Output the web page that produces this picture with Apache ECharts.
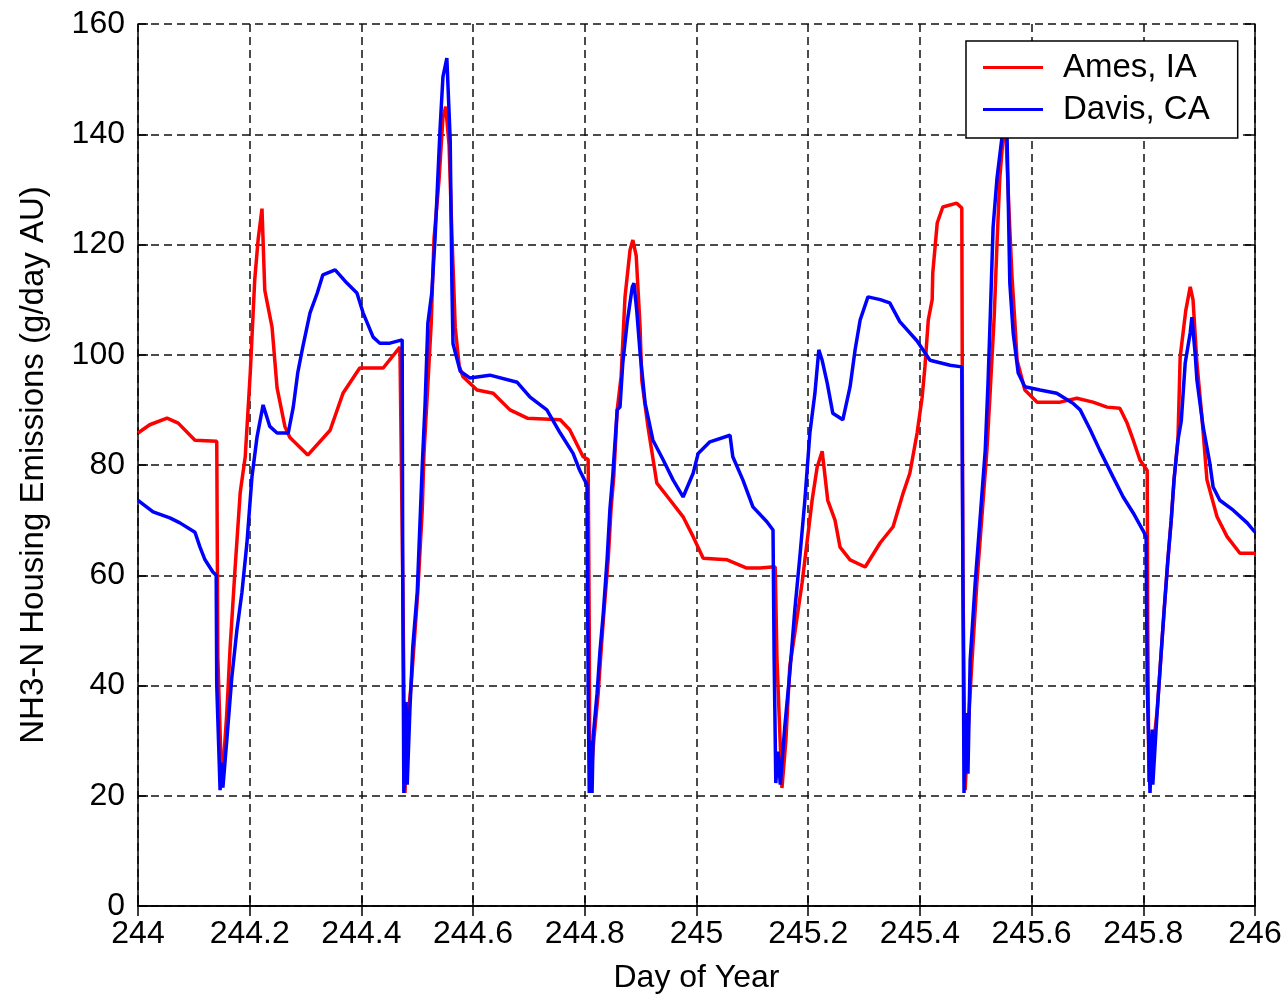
<!DOCTYPE html>
<html>
<head>
<meta charset="utf-8">
<title>NH3-N Housing Emissions</title>
<script src="https://cdn.jsdelivr.net/npm/echarts@6/dist/echarts.min.js"></script>
<style>
  html, body { margin: 0; padding: 0; background: #ffffff; }
  #chart { width: 1285px; height: 996px; }
</style>
</head>
<body>
<div id="chart"></div>
<script>
// Day of year (x) and emission (y) samples for each site
const amesDay = [244.000,244.021,244.052,244.072,244.102,244.141,244.143,244.150,244.159,244.165,244.174,244.183,244.192,244.201,244.209,244.215,244.222,244.227,244.240,244.249,244.263,244.272,244.304,244.344,244.367,244.397,244.439,244.469,244.474,244.478,244.483,244.489,244.494,244.501,244.509,244.512,244.517,244.525,244.530,244.539,244.546,244.551,244.557,244.562,244.568,244.575,244.582,244.607,244.636,244.666,244.697,244.756,244.773,244.797,244.806,244.808,244.809,244.816,244.824,244.829,244.834,244.842,244.847,244.852,244.858,244.865,244.872,244.881,244.886,244.892,244.899,244.902,244.913,244.929,244.953,244.976,244.994,245.012,245.055,245.090,245.114,245.135,245.141,245.144,245.153,245.160,245.167,245.176,245.189,245.200,245.207,245.216,245.225,245.235,245.248,245.257,245.275,245.302,245.329,245.352,245.370,245.382,245.395,245.404,245.409,245.415,245.422,245.423,245.431,245.441,245.466,245.475,245.477,245.481,245.488,245.493,245.502,245.511,245.520,245.526,245.533,245.538,245.543,245.551,245.554,245.560,245.565,245.570,245.574,245.588,245.610,245.651,245.681,245.710,245.735,245.758,245.771,245.782,245.794,245.807,245.808,245.810,245.817,245.825,245.832,245.837,245.844,245.850,245.855,245.862,245.866,245.876,245.884,245.889,245.896,245.905,245.914,245.932,245.950,245.973,246.000];
const amesVal = [85.8,87.3,88.5,87.6,84.5,84.3,45,21.5,35,47,61.5,75,81.5,96.7,113.6,120.8,126.5,111.7,105,94,87,85,81.8,86.3,93,97.6,97.6,101.4,60,20.5,34,40,47,57,72,82,91,105.7,121,131.7,143,145,138,122,105,98,96,93.6,93,90,88.5,88.2,86.4,81.5,81,50,20.5,30,38.6,46,53,63,72,78,90,96,110.5,119,120.8,118,105,95.4,87,76.7,73.6,70.6,67,63.1,62.8,61.3,61.3,61.5,61.5,45,21.4,30,43.4,49.5,58.6,67.7,73.6,79.6,82.5,73.6,70,65.1,62.8,61.5,65.9,68.8,74.9,78.5,85.8,92.3,97.8,106.3,110,114.8,123.9,126.8,127.5,126.6,60,21,35,44,58.6,70.6,82.7,93.6,106.8,120,132,142,140,125,114,106,99,93.6,91.4,91.4,92.1,91.4,90.5,90.3,87.6,84.5,80.9,79,50,22.5,28,35.6,45.9,53.2,62.8,70,77.3,84.5,99.6,108,112.3,110,98.5,88.7,77.3,70.6,67,64,64];

const davisDay = [244.000,244.027,244.057,244.075,244.102,244.111,244.120,244.134,244.140,244.141,244.147,244.150,244.152,244.159,244.168,244.177,244.186,244.195,244.204,244.213,244.224,244.236,244.249,244.269,244.278,244.286,244.295,244.308,244.321,244.331,244.353,244.374,244.392,244.403,244.421,244.433,244.451,244.473,244.474,244.476,244.480,244.482,244.487,244.492,244.500,244.509,244.514,244.519,244.526,244.532,244.541,244.546,244.553,244.559,244.562,244.564,244.577,244.594,244.630,244.679,244.702,244.732,244.756,244.779,244.791,244.804,244.806,244.808,244.811,244.813,244.815,244.822,244.827,244.833,244.840,244.845,244.850,244.858,244.863,244.868,244.876,244.885,244.888,244.893,244.899,244.908,244.922,244.940,244.958,244.976,244.994,245.003,245.024,245.060,245.065,245.083,245.101,245.126,245.137,245.139,245.142,245.146,245.150,245.158,245.167,245.176,245.185,245.194,245.203,245.212,245.219,245.225,245.234,245.244,245.262,245.275,245.284,245.293,245.307,245.329,245.346,245.364,245.395,245.418,245.454,245.475,245.477,245.479,245.483,245.486,245.490,245.499,245.508,245.517,245.522,245.526,245.531,245.538,245.547,245.551,245.556,245.561,245.567,245.576,245.588,245.615,245.645,245.674,245.687,245.705,245.722,245.746,245.764,245.782,245.799,245.805,245.807,245.812,245.816,245.817,245.825,245.832,245.837,245.844,245.850,245.855,245.862,245.868,245.875,245.884,245.887,245.893,245.896,245.907,245.919,245.925,245.937,245.961,245.986,246.000];
const davisVal = [73.6,71.5,70.4,69.5,67.8,65.1,62.8,60.6,60,40,21,26,21.5,30.1,41.5,50,56.8,65.8,77.8,85,90.9,87,85.8,85.8,90.5,96.7,101.4,107.6,111.2,114.5,115.4,113,111.2,107.6,103.2,102.1,102.1,102.7,60,20.5,37,22,36,47,57,80,91,105.7,111.2,121.4,141.3,150.4,153.8,139,113,102,97,95.8,96.3,95,92.3,90,85.8,82.1,79,76.4,40,20.5,30,20.5,30.7,38.6,46,53,63,72,78,90,90.5,98.5,106,112.3,113,108,100.3,91.2,84.5,81,77.3,74.2,78.5,82.1,84.2,85.4,81.5,77.3,72.4,69.7,68.2,45,22.3,28,22,32.5,42.2,53.7,63.3,73.6,85.8,93,100.9,99,94.9,89.4,88.2,94.2,100.9,106.3,110.5,110,109.4,106,102.5,99,98.1,97.8,60,20.5,35,24,44.6,58.6,70.6,82.7,95,107,123,132,139.5,146,140,113,104,96.7,94.2,93.6,93,91.2,90,86.4,82.7,77.8,74.2,71.3,68.2,67,40,20.5,32,22,35.6,45.9,53.2,62.8,70,77.3,84.5,88,98.5,104,106.8,100,95.4,87,80.4,76,73.6,71.8,69.5,67.8];

const seriesNames = ['Ames, IA', 'Davis, CA'];
const xTitle = 'Day of Year';
const yTitle = 'NH3-N Housing Emissions (g/day AU)';

const pairs = (xs, ys) => xs.map((x, i) => [x, ys[i]]);

const FONT = 'Liberation Sans, Arial, sans-serif';
const FS = 32;

const chart = echarts.init(document.getElementById('chart'), null, { renderer: 'canvas' });

const frameLine = { show: true, lineStyle: { color: '#000', width: 1.5 } };
const innerTick = { show: true, inside: true, length: 10, lineStyle: { color: '#000', width: 1.5 } };
const dashed = { show: true, lineStyle: { color: '#111', width: 1.5, type: [8, 5] } };

chart.setOption({
  backgroundColor: '#ffffff',
  animation: false,
  textStyle: { fontFamily: FONT },
  grid: { left: 138, right: 30, top: 24, bottom: 90, containLabel: false, outerBoundsMode: 'none' },
  legend: {
    orient: 'vertical',
    left: 966,
    top: 41,
    backgroundColor: '#ffffff',
    borderColor: '#000',
    borderWidth: 1.5,
    borderRadius: 0,
    padding: [10, 28, 12, 17],
    itemGap: 9,
    itemWidth: 60,
    itemHeight: 3,
    icon: 'rect',
    textStyle: { fontSize: 33, color: '#000', fontFamily: FONT, padding: [0, 0, 0, 15] },
    data: seriesNames
  },
  xAxis: [{
    type: 'value',
    min: 244,
    max: 246,
    interval: 0.2,
    name: xTitle,
    nameLocation: 'middle',
    nameGap: 56,
    nameTextStyle: { fontSize: FS, color: '#000', fontFamily: FONT },
    axisLine: frameLine,
    axisTick: innerTick,
    axisLabel: {
      fontSize: FS, color: '#000', margin: 12, fontFamily: FONT,
      formatter: v => String(parseFloat(v.toFixed(1)))
    },
    splitLine: dashed
  }, {
    type: 'value',
    position: 'top',
    min: 244,
    max: 246,
    interval: 0.2,
    axisLine: frameLine,
    axisTick: innerTick,
    axisLabel: { show: false },
    splitLine: { show: false }
  }],
  yAxis: [{
    type: 'value',
    min: 0,
    max: 160,
    interval: 20,
    name: yTitle,
    nameLocation: 'middle',
    nameGap: 88,
    nameTextStyle: { fontSize: 33, color: '#000', fontFamily: FONT },
    axisLine: frameLine,
    axisTick: innerTick,
    axisLabel: { fontSize: FS, color: '#000', margin: 13, fontFamily: FONT },
    splitLine: dashed
  }, {
    type: 'value',
    position: 'right',
    min: 0,
    max: 160,
    interval: 20,
    axisLine: frameLine,
    axisTick: innerTick,
    axisLabel: { show: false },
    splitLine: { show: false }
  }],
  series: [{
    name: seriesNames[0],
    type: 'line',
    data: pairs(amesDay, amesVal),
    showSymbol: false,
    lineStyle: { color: '#ff0000', width: 3.5 },
    itemStyle: { color: '#ff0000' },
    z: 2
  }, {
    name: seriesNames[1],
    type: 'line',
    data: pairs(davisDay, davisVal),
    showSymbol: false,
    lineStyle: { color: '#0000ff', width: 3.5 },
    itemStyle: { color: '#0000ff' },
    z: 3
  }]
});
</script>
</body>
</html>
